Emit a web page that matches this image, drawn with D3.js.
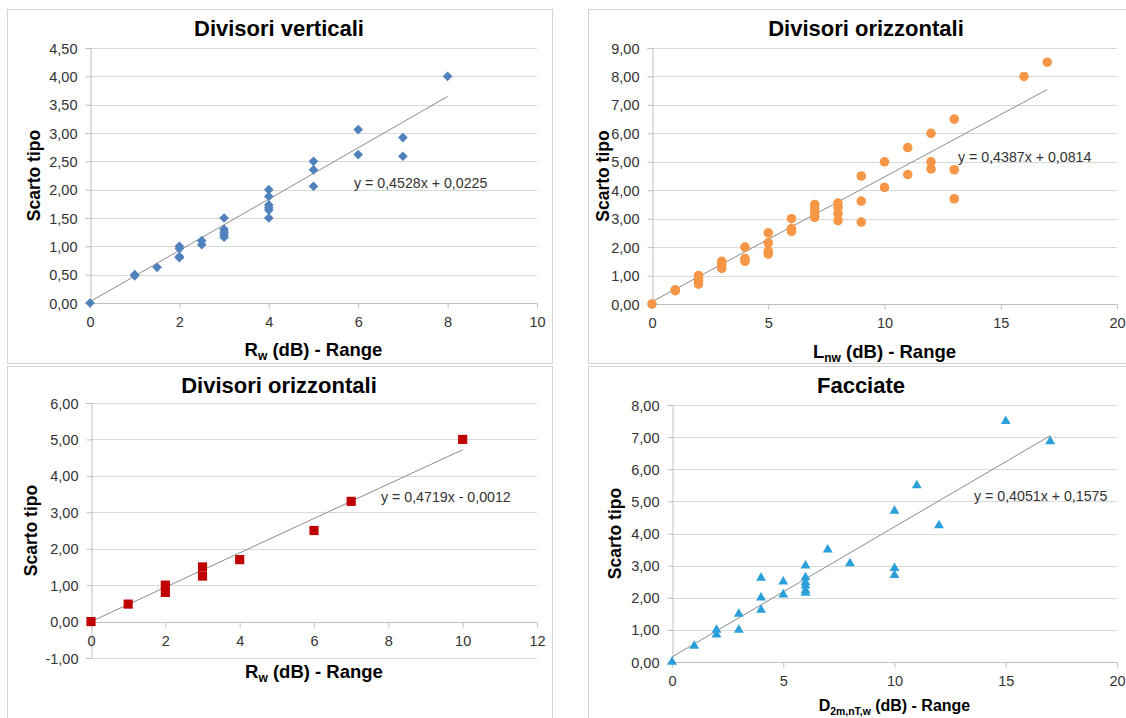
<!DOCTYPE html>
<html>
<head>
<meta charset="utf-8">
<script src="https://cdn.jsdelivr.net/npm/d3@7"></script>
<style>
  body { margin: 0; background: #fff; }
  svg { font-family: "Liberation Sans", Arial, sans-serif; }
</style>
</head>
<body>
<svg id="chart" width="1126" height="718"></svg>
<script>
// ---- data ----
const titles = ['Divisori verticali', 'Divisori orizzontali', 'Divisori orizzontali', 'Facciate'];

// Divisori verticali: Rw range vs scarto tipo
const vertPts = [[0,0],[1,0.5],[1,0.48],[1.5,0.63],[2,1.0],[2,0.96],[2,0.82],[2,0.8],
  [2.5,1.1],[2.5,1.03],[3,1.5],[3,1.3],[3,1.25],[3,1.2],[3,1.16],
  [4,2.0],[4,1.88],[4,1.73],[4,1.68],[4,1.64],[4,1.5],[5,2.5],[5,2.35],[5,2.06],
  [6,3.06],[6,2.62],[7,2.92],[7,2.59],[8,4.0]];
// Divisori orizzontali: Lnw range
const orizLnwPts = [[0,0],[1,0.5],[1,0.47],[2,1.0],[2,0.9],[2,0.8],[2,0.7],
  [3,1.5],[3,1.4],[3,1.25],[4,2.0],[4,1.6],[4,1.5],[5,2.5],[5,2.15],[5,1.85],[5,1.75],
  [6,3.0],[6,2.65],[6,2.55],[7,3.5],[7,3.35],[7,3.2],[7,3.05],[8,3.55],[8,3.4],[8,3.18],[8,2.93],
  [9,4.5],[9,3.62],[9,2.88],[10,5.0],[10,4.1],[11,5.5],[11,4.55],[12,6.0],[12,5.0],[12,4.75],
  [13,6.5],[13,4.72],[13,3.7],[16,8.0],[17,8.5]];
// Divisori orizzontali: Rw range
const orizRwPts = [[0,0],[1,0.48],[2,1.0],[2,0.8],[3,1.5],[3,1.25],[4,1.7],[6,2.5],[7,3.3],[10,5.0]];
// Facciate: D2m,nT,w range
const facPts = [[0,0],[1,0.5],[2,1.0],[2,0.85],[3,1.5],[3,1.0],[4,2.62],[4,2.0],[4,1.62],
  [5,2.5],[5,2.1],[6,3.0],[6,2.63],[6,2.48],[6,2.38],[6,2.23],[6,2.15],[7,3.5],[8,3.07],
  [10,4.7],[10,2.92],[10,2.7],[11,5.5],[12,4.25],[15,7.5],[17,6.87]];

const trendSlopes = [0.4528, 0.4387, 0.4719, 0.4051];
const trendIntercepts = [0.0225, 0.0814, -0.0012, 0.1575];
const equations = ['y = 0,4528x + 0,0225', 'y = 0,4387x + 0,0814', 'y = 0,4719x - 0,0012', 'y = 0,4051x + 0,1575'];

const vertXTicks = [0, 2, 4, 6, 8, 10];
const vertYTicks = [0, 0.5, 1, 1.5, 2, 2.5, 3, 3.5, 4, 4.5];
const lnwXTicks = [0, 5, 10, 15, 20];
const lnwYTicks = [0, 1, 2, 3, 4, 5, 6, 7, 8, 9];
const rwXTicks = [0, 2, 4, 6, 8, 10, 12];
const rwYTicks = [-1, 0, 1, 2, 3, 4, 5, 6];
const facXTicks = [0, 5, 10, 15, 20];
const facYTicks = [0, 1, 2, 3, 4, 5, 6, 7, 8];

// x axis titles: [main, subscript, rest]
const xTitles = [['R', 'w', ' (dB) - Range'], ['L', 'nw', ' (dB) - Range'],
  ['R', 'w', ' (dB) - Range'], ['D', '2m,nT,w', ' (dB) - Range']];

// ---- layout ----
const panels = [
  { pts: vertPts, xTicks: vertXTicks, yTicks: vertYTicks, color: '#4f81bd', symbol: 'diamond',
    box: [7, 9, 545, 354], xr: [90, 537], yr: [303, 48], titleY: 28, titleX: 279,
    yLabX: 34, xLabY: 350, eq: [354, 183], xFont: 18.5 },
  { pts: orizLnwPts, xTicks: lnwXTicks, yTicks: lnwYTicks, color: '#f79646', symbol: 'circle',
    box: [588, 9, 580, 354], xr: [652, 1117], yr: [304, 48], titleY: 28, titleX: 866,
    yLabX: 603, xLabY: 352, eq: [958, 157], xFont: 18.5 },
  { pts: orizRwPts, xTicks: rwXTicks, yTicks: rwYTicks, color: '#c00000', symbol: 'square',
    box: [7, 366, 545, 370], xr: [91, 537], yr: [658, 403], titleY: 385, titleX: 279,
    yLabX: 31, xLabY: 672, eq: [381, 497], xFont: 18.5 },
  { pts: facPts, xTicks: facXTicks, yTicks: facYTicks, color: '#2b9fd9', symbol: 'triangle',
    box: [588, 366, 580, 370], xr: [672, 1117], yr: [662, 405], titleY: 385, titleX: 861,
    yLabX: 615, xLabY: 705, eq: [974, 496], xFont: 16 }
];

const fmt = d3.formatLocale({ decimal: ',', thousands: '.', grouping: [3], currency: ['€', ''], minus: '-' }).format('.2f');

const svg = d3.select('#chart');

const symbols = {
  diamond: d3.symbol().type(d3.symbolDiamond2 || d3.symbolDiamond).size(60),
  circle: d3.symbol().type(d3.symbolCircle).size(72),
  square: d3.symbol().type(d3.symbolSquare).size(84),
  triangle: d3.symbol().type(d3.symbolTriangle).size(42)
};

panels.forEach((p, i) => {
  const g = svg.append('g');

  g.append('rect')
    .attr('x', p.box[0] + 0.5).attr('y', p.box[1] + 0.5)
    .attr('width', p.box[2]).attr('height', p.box[3])
    .attr('fill', '#fff')
    .attr('stroke', '#d4d4d4');

  const x = d3.scaleLinear()
    .domain(d3.extent(p.xTicks))
    .range(p.xr);
  const y = d3.scaleLinear()
    .domain(d3.extent(p.yTicks))
    .range(p.yr);

  // horizontal gridlines
  g.selectAll('line.grid')
    .data(p.yTicks)
    .join('line')
    .attr('class', 'grid')
    .attr('x1', p.xr[0]).attr('x2', p.xr[1])
    .attr('y1', d => Math.round(y(d)) + 0.5).attr('y2', d => Math.round(y(d)) + 0.5)
    .attr('stroke', '#d9d9d9');

  const yAxis = g.append('g')
    .attr('transform', `translate(${Math.round(p.xr[0]) + 0.5},0)`)
    .call(d3.axisLeft(y).tickValues(p.yTicks).tickFormat(fmt).tickSize(5).tickPadding(8));

  const xAxis = g.append('g')
    .attr('transform', `translate(0,${Math.round(y(0)) + 0.5})`)
    .call(d3.axisBottom(x).tickValues(p.xTicks).tickSize(5).tickPadding(8));

  [yAxis, xAxis].forEach(a => {
    a.select('.domain').attr('stroke', '#bfbfbf');
    a.selectAll('.tick line').attr('stroke', '#bfbfbf');
    a.selectAll('.tick text')
      .attr('fill', '#333')
      .style('font-size', '14.5px')
      .style('font-family', '"Liberation Sans", Arial, sans-serif');
  });
  yAxis.selectAll('.tick text').attr('dy', '0.35em');
  xAxis.select('.domain').attr('d', `M${p.xr[0]},0H${p.xr[1]}`);

  // trend line
  const xMax = d3.max(p.pts, d => d[0]);
  g.append('path')
    .datum([0, xMax])
    .attr('d', d3.line()
      .x(d => x(d))
      .y(d => y(trendSlopes[i] * d + trendIntercepts[i])))
    .attr('stroke', '#8c8c8c')
    .attr('stroke-width', 1)
    .attr('fill', 'none');

  // markers
  g.selectAll('path.pt')
    .data(p.pts)
    .join('path')
    .attr('class', 'pt')
    .attr('transform', d => `translate(${x(d[0])},${y(d[1])})`)
    .attr('d', symbols[p.symbol])
    .attr('fill', p.color);

  // equation
  g.append('text')
    .attr('x', p.eq[0]).attr('y', p.eq[1])
    .attr('dy', '0.35em')
    .attr('fill', '#333')
    .style('font-size', '14.2px')
    .text(equations[i]);

  // chart title
  g.append('text')
    .attr('x', p.titleX).attr('y', p.titleY)
    .attr('dy', '0.35em')
    .attr('text-anchor', 'middle')
    .style('font-size', '22px')
    .style('font-weight', 'bold')
    .text(titles[i]);

  // y title
  g.append('text')
    .attr('transform', `translate(${p.yLabX},${(p.yr[0] + p.yr[1]) / 2}) rotate(-90)`)
    .attr('dy', '0.35em')
    .attr('text-anchor', 'middle')
    .style('font-size', '17.5px')
    .style('font-weight', 'bold')
    .text('Scarto tipo');

  // x title with subscript
  const xt = g.append('text')
    .attr('x', (p.xr[0] + p.xr[1]) / 2).attr('y', p.xLabY)
    .attr('dy', '0.35em')
    .attr('text-anchor', 'middle')
    .style('font-size', p.xFont + 'px')
    .style('font-weight', 'bold');
  xt.append('tspan').text(xTitles[i][0]);
  xt.append('tspan').attr('dy', 4).style('font-size', (p.xFont * 0.65) + 'px').text(xTitles[i][1]);
  xt.append('tspan').attr('dy', -4).text(xTitles[i][2]);
});
</script>
</body>
</html>
